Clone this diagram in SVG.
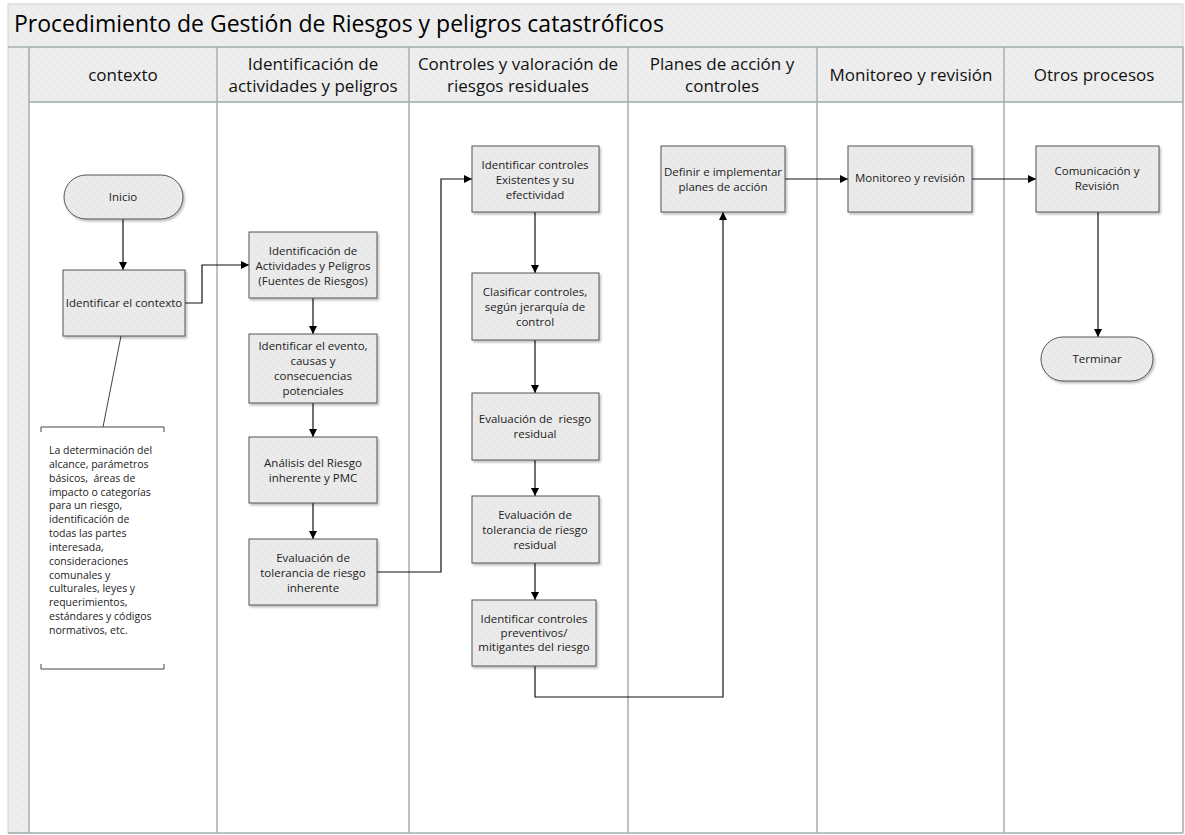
<svg xmlns="http://www.w3.org/2000/svg" width="1185" height="835" viewBox="0 0 1185 835">
<defs>
<pattern id="hatch" patternUnits="userSpaceOnUse" width="8" height="8">
<rect width="8" height="8" fill="#ececec"/>
<path d="M0,0 L8,8 M-2,6 L2,10 M6,-2 L10,2" stroke="#f2f2f2" stroke-width="1"/>
</pattern>
<pattern id="nodehatch" patternUnits="userSpaceOnUse" width="8" height="8">
<rect width="8" height="8" fill="#e9e9e9"/>
<path d="M0,0 L8,8 M-2,6 L2,10 M6,-2 L10,2" stroke="#efefef" stroke-width="1"/>
</pattern>
<marker id="arr" viewBox="0 0 10 10" refX="10" refY="5" markerWidth="8" markerHeight="8" markerUnits="userSpaceOnUse" orient="auto">
<path d="M0,0 L10,5 L0,10 z" fill="#000"/>
</marker>
<filter id="sh" x="-10%" y="-10%" width="130%" height="130%">
<feDropShadow dx="1.5" dy="2" stdDeviation="1.2" flood-color="#000" flood-opacity="0.25"/>
</filter>
</defs>
<style>
text{white-space:pre}
.frame{fill:url(#hatch);stroke:#cfd4d3;stroke-width:1}
.hdr{fill:url(#hatch);stroke:#c8cecd;stroke-width:1}
.lane{fill:#fff;stroke:none}
.div{stroke:#a5b0ae;stroke-width:1.5;fill:none}
.title{font-family:"Open Sans","Noto Sans",sans-serif;font-size:23px;fill:#000}
.ht{font-family:"Open Sans","Noto Sans",sans-serif;font-size:17px;fill:#111;text-anchor:middle}
.box{fill:url(#nodehatch);stroke:#555;stroke-width:1;filter:url(#sh)}
.nt{font-family:"Open Sans","Noto Sans",sans-serif;font-size:11.5px;fill:#222;text-anchor:middle}
.note{font-family:"Open Sans","Noto Sans",sans-serif;font-size:10.5px;fill:#222}
.con{fill:none;stroke:#111;stroke-width:1.2;marker-end:url(#arr)}
.plain{fill:none;stroke:#444;stroke-width:1}
</style>
<rect width="1185" height="835" fill="#fff"/>
<g id="pool">
<rect class="frame" x="8" y="4" width="1175" height="829"/>
<text class="title" x="14" y="32">Procedimiento de Gestión de Riesgos y peligros catastróficos</text>
<rect class="lane" x="29" y="102" width="1154" height="731"/>
<rect class="hdr" x="29" y="47" width="1154" height="55"/>
<line class="div" x1="8" y1="47" x2="1183" y2="47"/>
<line class="div" x1="29" y1="102" x2="1183" y2="102"/>
<line class="div" x1="29" y1="47" x2="29" y2="833"/>
<line class="div" x1="217" y1="47" x2="217" y2="833"/>
<line class="div" x1="409" y1="47" x2="409" y2="833"/>
<line class="div" x1="628" y1="47" x2="628" y2="833"/>
<line class="div" x1="817" y1="47" x2="817" y2="833"/>
<line class="div" x1="1004" y1="47" x2="1004" y2="833"/>
<line class="div" x1="1183" y1="47" x2="1183" y2="833"/>
<line class="div" x1="8" y1="833" x2="1183" y2="833"/>
<text class="ht" x="123" y="81">contexto</text>
<text class="ht" x="313" y="70">Identificación de</text>
<text class="ht" x="313" y="92">actividades y peligros</text>
<text class="ht" x="518" y="70">Controles y valoración de</text>
<text class="ht" x="518" y="92">riesgos residuales</text>
<text class="ht" x="722" y="70">Planes de acción y</text>
<text class="ht" x="722" y="92">controles</text>
<text class="ht" x="911" y="81">Monitoreo y revisión</text>
<text class="ht" x="1094" y="81">Otros procesos</text>
</g>
<g id="connectors">
<line class="con" x1="123" y1="219" x2="123" y2="270"/>
<polyline class="con" points="185,303 202,303 202,265 249,265"/>
<line class="con" x1="313" y1="298" x2="313" y2="334"/>
<line class="con" x1="313" y1="403" x2="313" y2="437"/>
<line class="con" x1="313" y1="503" x2="313" y2="539"/>
<polyline class="con" points="377,572 441,572 441,179 472,179"/>
<line class="con" x1="535" y1="212" x2="535" y2="273"/>
<line class="con" x1="535" y1="340" x2="535" y2="393"/>
<line class="con" x1="535" y1="460" x2="535" y2="496"/>
<line class="con" x1="535" y1="563" x2="535" y2="600"/>
<polyline class="con" points="535,666 535,697 723,697 723,212"/>
<line class="con" x1="785" y1="179" x2="848" y2="179"/>
<line class="con" x1="972" y1="179" x2="1036" y2="179"/>
<line class="con" x1="1098" y1="212" x2="1098" y2="337"/>
<line class="plain" x1="121" y1="336" x2="103" y2="427"/>
</g>
<g id="n-inicio">
<rect class="box" x="64" y="175" width="119" height="44" rx="22" ry="22"/>
<text class="nt" x="123" y="201">Inicio</text>
</g>
<g id="n-contexto">
<rect class="box" x="63" y="270" width="122" height="66"/>
<text class="nt" x="124" y="307">Identificar el contexto</text>
</g>
<g id="n-nota">
<path class="plain" d="M41,432 L41,427 L164,427 L164,432"/>
<path class="plain" d="M41,664 L41,669 L164,669 L164,664"/>
<text class="note" x="49">
<tspan x="49" y="454">La determinación del</tspan>
<tspan x="49" y="468">alcance, parámetros</tspan>
<tspan x="49" y="482">básicos,  áreas de</tspan>
<tspan x="49" y="496">impacto o categorías</tspan>
<tspan x="49" y="509">para un riesgo,</tspan>
<tspan x="49" y="523">identificación de</tspan>
<tspan x="49" y="537">todas las partes</tspan>
<tspan x="49" y="551">interesada,</tspan>
<tspan x="49" y="565">consideraciones</tspan>
<tspan x="49" y="579">comunales y</tspan>
<tspan x="49" y="592">culturales, leyes y</tspan>
<tspan x="49" y="606">requerimientos,</tspan>
<tspan x="49" y="620">estándares y códigos</tspan>
<tspan x="49" y="634">normativos, etc.</tspan>
</text>
</g>
<g id="n-ident-act">
<rect class="box" x="249" y="232" width="128" height="66"/>
<text class="nt" x="313" y="255">Identificación de</text>
<text class="nt" x="313" y="270">Actividades y Peligros</text>
<text class="nt" x="313" y="285">(Fuentes de Riesgos)</text>
</g>
<g id="n-evento">
<rect class="box" x="249" y="334" width="128" height="69"/>
<text class="nt" x="313" y="350">Identificar el evento,</text>
<text class="nt" x="313" y="365">causas y</text>
<text class="nt" x="313" y="380">consecuencias</text>
<text class="nt" x="313" y="395">potenciales</text>
</g>
<g id="n-analisis">
<rect class="box" x="249" y="437" width="128" height="66"/>
<text class="nt" x="313" y="467">Análisis del Riesgo</text>
<text class="nt" x="313" y="482">inherente y PMC</text>
</g>
<g id="n-tol-inh">
<rect class="box" x="249" y="539" width="128" height="66"/>
<text class="nt" x="313" y="562">Evaluación de</text>
<text class="nt" x="313" y="577">tolerancia de riesgo</text>
<text class="nt" x="313" y="592">inherente</text>
</g>
<g id="n-ctrl-exist">
<rect class="box" x="472" y="146" width="127" height="66"/>
<text class="nt" x="535" y="169">Identificar controles</text>
<text class="nt" x="535" y="184">Existentes y su</text>
<text class="nt" x="535" y="199">efectividad</text>
</g>
<g id="n-clasificar">
<rect class="box" x="472" y="273" width="127" height="67"/>
<text class="nt" x="535" y="296">Clasificar controles,</text>
<text class="nt" x="535" y="311">según jerarquía de</text>
<text class="nt" x="535" y="326">control</text>
</g>
<g id="n-residual">
<rect class="box" x="472" y="393" width="127" height="67"/>
<text class="nt" x="535" y="423">Evaluación de  riesgo</text>
<text class="nt" x="535" y="438">residual</text>
</g>
<g id="n-tol-res">
<rect class="box" x="472" y="496" width="127" height="67"/>
<text class="nt" x="535" y="519">Evaluación de</text>
<text class="nt" x="535" y="534">tolerancia de riesgo</text>
<text class="nt" x="535" y="549">residual</text>
</g>
<g id="n-preventivos">
<rect class="box" x="472" y="600" width="124" height="66"/>
<text class="nt" x="534" y="623">Identificar controles</text>
<text class="nt" x="534" y="637">preventivos/</text>
<text class="nt" x="534" y="651">mitigantes del riesgo</text>
</g>
<g id="n-definir">
<rect class="box" x="661" y="146" width="124" height="66"/>
<text class="nt" x="723" y="176">Definir e implementar</text>
<text class="nt" x="723" y="191">planes de acción</text>
</g>
<g id="n-monitoreo">
<rect class="box" x="848" y="146" width="124" height="66"/>
<text class="nt" x="910" y="182">Monitoreo y revisión</text>
</g>
<g id="n-comunicacion">
<rect class="box" x="1036" y="146" width="123" height="66"/>
<text class="nt" x="1097" y="175">Comunicación y</text>
<text class="nt" x="1097" y="190">Revisión</text>
</g>
<g id="n-terminar">
<rect class="box" x="1041" y="337" width="112" height="44" rx="22" ry="22"/>
<text class="nt" x="1097" y="363">Terminar</text>
</g>
</svg>
